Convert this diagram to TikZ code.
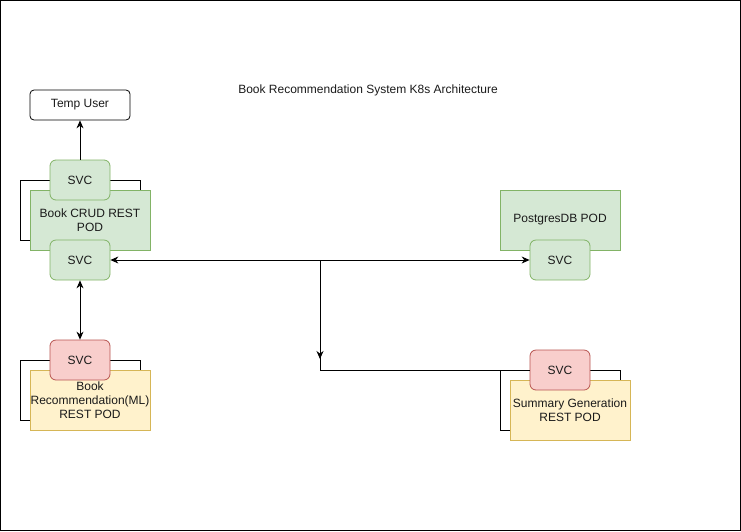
\documentclass[tikz,border=0pt]{standalone}
\usepackage{fontspec}
\setmainfont{Liberation Sans}
\usetikzlibrary{arrows.meta}
\definecolor{greenfill}{HTML}{D5E8D4}
\definecolor{greenline}{HTML}{82B366}
\definecolor{redfill}{HTML}{F8CECC}
\definecolor{redline}{HTML}{B85450}
\definecolor{yellowfill}{HTML}{FFF2CC}
\definecolor{yellowline}{HTML}{D6B656}
\definecolor{textgrey}{HTML}{1A1A1A}

\begin{document}
\begin{tikzpicture}[x=1pt,y=-1pt,
  every node/.style={font=\fontsize{12}{14}\selectfont, text=textgrey, inner sep=0pt},
  pod/.style={draw, line width=0.8pt, minimum width=120pt, minimum height=60pt, align=center},
  backbox/.style={draw=black, line width=0.8pt, fill=white, minimum width=120pt, minimum height=60pt},
  svc/.style={draw, line width=0.8pt, rounded corners=6pt, minimum width=60pt, minimum height=40pt},
  link/.style={line width=0.8pt, draw=black},
  tip/.style={-{Stealth[length=8pt,width=7pt]}},
  tips/.style={{Stealth[length=8pt,width=7pt]}-{Stealth[length=8pt,width=7pt]}}]
\useasboundingbox (0,0) rectangle (741,531);
\draw[line width=0.8pt] (0.5,0.5) rectangle (740.5,530.5);

\node (title) at (368,90) {Book Recommendation System K8s Architecture};
\node[draw, line width=0.8pt, rounded corners=4pt, minimum width=100pt, minimum height=30pt] (user) at (80,105) {Temp User};

% book crud
\node[backbox] (crudback) at (80,210) {};
\node[pod, fill=greenfill, draw=greenline] (crudpod) at (90,220) {Book CRUD REST\\POD};
\node[svc, fill=greenfill, draw=greenline] (crudtop) at (80,180) {SVC};
\node[svc, fill=greenfill, draw=greenline] (crudbot) at (80,260) {SVC};

% postgres
\node[pod, fill=greenfill, draw=greenline] (pgpod) at (560,220) {PostgresDB POD};
\node[svc, fill=greenfill, draw=greenline] (pgsvc) at (560,260) {SVC};

% recommendation
\node[backbox] (recback) at (80,390) {};
\node[pod, fill=yellowfill, draw=yellowline] (recpod) at (90,400) {Book\\Recommendation(ML)\\REST POD};
\node[svc, fill=redfill, draw=redline] (recsvc) at (80,360) {SVC};

% summary
\node[backbox] (sumback) at (560,400) {};
\node[pod, fill=yellowfill, draw=yellowline] (sumpod) at (570,410) {Summary Generation\\REST POD};
\node[svc, fill=redfill, draw=redline] (sumsvc) at (560,370) {SVC};

% connectors
\draw[link, tip] (crudtop) -- (user);
\draw[link, tips] (crudbot) -- (recsvc);
\draw[link, tips] (crudbot) -- (pgsvc);
\coordinate (split) at (320,260);
\coordinate (bend) at (320,370);
\coordinate (down) at (320,359);
\draw[link] (split) -- (bend) -- (sumsvc);
\draw[link, tip] (split) -- (down);
\end{tikzpicture}
\end{document}
